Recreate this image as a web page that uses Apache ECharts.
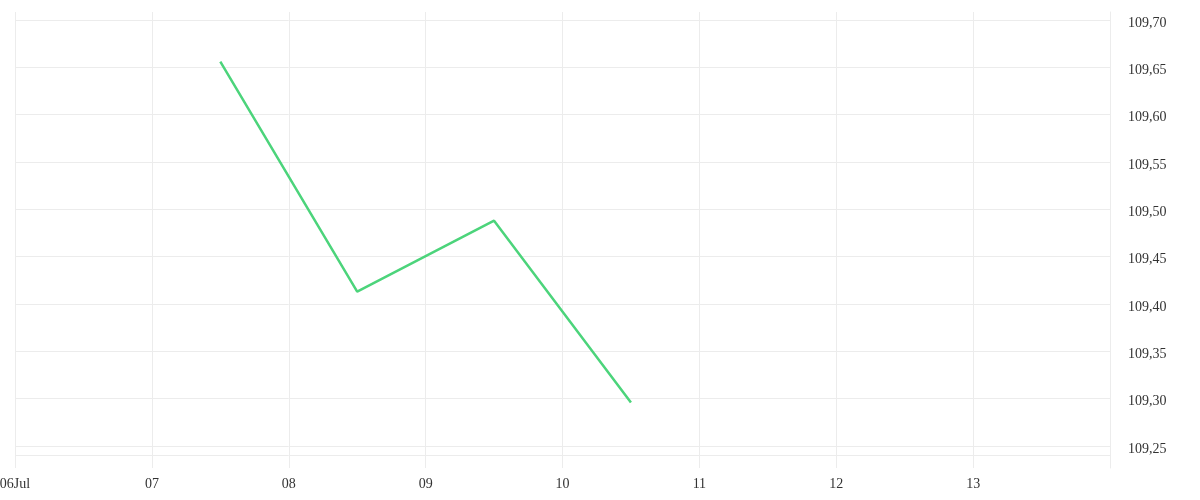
<!DOCTYPE html>
<html>
<head>
<meta charset="utf-8">
<script src="https://cdn.jsdelivr.net/npm/echarts@6/dist/echarts.min.js"></script>
<style>html,body{margin:0;padding:0;background:#fff}#c{width:1200px;height:500px}</style>
</head>
<body>
<div id="c"></div>
<script>
const times = ['2024-07-07 12:00', '2024-07-08 12:00', '2024-07-09 12:00', '2024-07-10 12:00'];
const values = [109.656, 109.413, 109.488, 109.296];
const xRange = ['2024-07-06 00:00', '2024-07-14 00:00'];
const yRange = [109.2268, 109.7084];
const baseLine = [109.2374];

const chart = echarts.init(document.getElementById('c'), null, {renderer: 'canvas'});
const DAY = 86400000;
const font = 'Liberation Serif';
chart.setOption({
  animation: false,
  grid: {left: 15, right: 90, top: 12, bottom: 32, containLabel: false, outerBoundsMode: 'none'},
  xAxis: {
    type: 'time',
    min: new Date(xRange[0].replace(' ', 'T')).getTime(),
    max: new Date(xRange[1].replace(' ', 'T')).getTime(),
    minInterval: DAY, maxInterval: DAY,
    axisLine: {show: false},
    axisTick: {show: false},
    splitLine: {show: true, lineStyle: {color: '#ececec', width: 1}},
    axisLabel: {
      color: '#333', fontFamily: font, fontSize: 14, margin: 9,
      showMaxLabel: false,
      formatter: function (v) {
        const d = new Date(v);
        const dd = String(d.getDate()).padStart(2, '0');
        return d.getDate() === 6 ? dd + 'Jul' : dd;
      }
    }
  },
  yAxis: {
    type: 'value',
    position: 'right',
    min: yRange[0], max: yRange[1],
    scale: true,
    splitNumber: 9,
    axisLine: {show: true, lineStyle: {color: '#ececec'}},
    axisTick: {show: false},
    splitLine: {show: true, showMinLine: false, showMaxLine: false, lineStyle: {color: '#ececec', width: 1}},
    axisLabel: {
      color: '#333', fontFamily: font, fontSize: 14, margin: 18,
      verticalAlign: 'top', lineHeight: 6,
      showMinLabel: false, showMaxLabel: false,
      formatter: function (v) { return v.toFixed(2).replace('.', ','); }
    }
  },
  series: [{
    type: 'line',
    data: times.map((t, i) => [new Date(t.replace(' ', 'T')).getTime(), values[i]]),
    showSymbol: false,
    symbol: 'none',
    lineStyle: {color: '#4cd47b', width: 2.5},
    markLine: {
      silent: true, symbol: 'none', label: {show: false},
      lineStyle: {color: '#ececec', type: 'solid', width: 1},
      data: baseLine.map(v => ({yAxis: v}))
    }
  }]
});
</script>
</body>
</html>
